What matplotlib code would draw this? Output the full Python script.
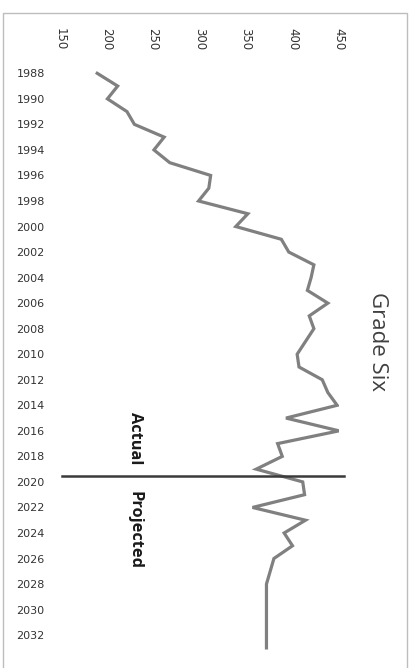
import matplotlib
matplotlib.use("Agg")
import matplotlib.pyplot as plt
from matplotlib.patches import Rectangle

years = list(range(1988, 2034))
enrollment = [190, 212, 201, 222, 230, 262, 251, 268, 312, 310,
              299, 352, 339, 388, 396, 423, 420, 416, 438, 418,
              423, 414, 405, 407, 432, 438, 448, 393, 450, 384,
              389, 361, 411, 413, 357, 414, 391, 400, 380, 376,
              372, 372, 372, 372, 372, 372]
value_ticks = [150, 200, 250, 300, 350, 400, 450]
year_ticks = list(range(1988, 2033, 2))
split_year = 2019.5
title = "Grade Six"


def main():
	fig = plt.figure(figsize=(4.09, 6.68), dpi=100)
	W, H = 409.0, 668.0
	# plot area in pixels: x 60..339, y 67..654 from top
	ax = fig.add_axes([60 / W, 1 - 654.3 / H, 279 / W, (654.3 - 66.9) / H])

	ax.plot(enrollment, years, color="#808080", lw=2.3, solid_joinstyle="miter")

	# actual / projected divider
	ax.plot([152, 455], [split_year, split_year], color="#3a3a3a", lw=1.8, clip_on=False)
	ax.text(231, split_year - 2.9, "Actual", rotation=-90, ha="center", va="center",
		fontsize=11.8, fontweight="bold", family="Open Sans", color="#1a1a1a")
	ax.text(230, split_year + 4.3, "Projected", rotation=-90, ha="center", va="center",
		fontsize=11.8, fontweight="bold", family="Open Sans", color="#1a1a1a")

	ax.set_xlim(150, 450)
	ax.set_ylim(2033.5, 1987.5)
	ax.xaxis.tick_top()
	ax.set_xticks(value_ticks)
	ax.set_xticklabels([str(v) for v in value_ticks], rotation=-90, fontsize=8.5, color="#333333")
	ax.set_yticks(year_ticks)
	ax.set_yticklabels([str(y) for y in year_ticks], fontsize=8, color="#333333")
	ax.tick_params(axis="both", length=0)
	ax.tick_params(axis="x", pad=12)
	ax.tick_params(axis="y", pad=11)
	for s in ax.spines.values():
		s.set_visible(False)

	fig.text(378 / W, 1 - 341 / H, title, rotation=-90, ha="center", va="center",
		fontsize=16, family="Open Sans", color="#404040")

	fig.patches.append(Rectangle((3 / W, -0.01), 404 / W, 1 - 13 / H + 0.01,
		transform=fig.transFigure, fill=False, edgecolor="#bdbdbd", lw=1))

	fig.savefig("out.png", dpi=100)


main()
